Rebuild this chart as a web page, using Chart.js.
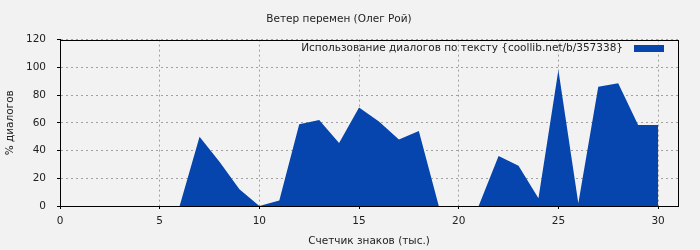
<!DOCTYPE html>
<html>
<head>
<meta charset="utf-8">
<script src="https://cdn.jsdelivr.net/npm/chart.js@4/dist/chart.umd.min.js"></script>
<style>
  html, body { margin: 0; padding: 0; background: #f2f2f2; }
  #wrap { width: 700px; height: 250px; }
</style>
</head>
<body>
<div id="wrap"><canvas id="grafico"></canvas></div>
<script>
// значения
const counters = [0, 1, 2, 3, 4, 5, 6, 7, 8, 9, 10, 11, 12, 13, 14, 15, 16, 17, 18, 19, 20, 21, 22, 23, 24, 25, 26, 27, 28, 29, 30];
const dialogs = [0, 0, 0, 0, 0, 0, 0, 50, 32, 12, 0, 4, 59, 62, 45.5, 71, 61, 48, 54, 0, 0, 0, 36, 29, 5.5, 98, 2, 86, 88.5, 58.5, 58.5];
const yTicks = [0, 20, 40, 60, 80, 100, 120];
const xTicks = [0, 5, 10, 15, 20, 25, 30];

const fontFam = "'DejaVu Sans', sans-serif";
const fontSize = 10.5;
Chart.defaults.font.family = fontFam;
Chart.defaults.font.size = fontSize;
Chart.defaults.color = "#222";

// рамка вокруг области графика и легенда внутри неё (справа сверху)
const ramka = {
  id: "ramka",
  afterDatasetsDraw(chart) {
    const a = chart.chartArea;
    const ctx = chart.ctx;
    ctx.save();
    ctx.strokeStyle = "#000";
    ctx.lineWidth = 1;
    ctx.strokeRect(Math.round(a.left) + 0.5, Math.round(a.top) + 0.5, Math.round(a.right - a.left), Math.round(a.bottom - a.top));

    const ds = chart.data.datasets[0];
    const boxW = 30, boxH = 7;
    const boxRight = a.right - 14;
    const cy = a.top + 8.5;
    ctx.fillStyle = ds.backgroundColor;
    ctx.fillRect(boxRight - boxW, Math.round(cy - boxH / 2), boxW, boxH);
    ctx.fillStyle = "#222";
    ctx.font = fontSize + "px " + fontFam;
    ctx.textAlign = "right";
    ctx.textBaseline = "middle";
    ctx.fillText(ds.label, boxRight - boxW - 11, cy);
    ctx.restore();
  }
};

const puntos = counters.map((c, i) => ({ x: c, y: dialogs[i] }));

const grid = {
  color: "#a0a0a0",
  tickColor: "#000",
  tickBorderDash: [],
  tickLength: 3,
  lineWidth: 1
};

new Chart(document.getElementById("grafico"), {
  type: "line",
  data: {
    datasets: [
      {
        label: "Использование диалогов по тексту {coollib.net/b/357338}",
        data: puntos,
        fill: "origin",
        backgroundColor: "#0645ad",
        borderColor: "#0645ad",
        borderWidth: 0,
        pointRadius: 0,
        tension: 0,
      },
    ],
  },
  plugins: [ramka],
  options: {
    responsive: true,
    maintainAspectRatio: false,
    animation: false,
    layout: { padding: { left: 0, right: 22, top: 0, bottom: 0 } },
    plugins: {
      title: {
        display: true,
        text: "Ветер перемен (Олег Рой)",
        font: { size: fontSize, weight: "normal" },
        color: "#222",
        padding: { top: 13, bottom: 14 },
      },
      legend: { display: false },
      tooltip: { enabled: false },
    },
    scales: {
      x: {
        type: "linear",
        min: 0,
        max: 31,
        afterBuildTicks(axis) { axis.ticks = xTicks.map(v => ({ value: v })); },
        afterFit(axis) { axis.height = 44; },
        ticks: { padding: 6, maxRotation: 0 },
        grid: grid,
        border: { color: "#000", dash: [2, 3] },
        title: { display: true, text: "Счетчик знаков (тыс.)", padding: { top: 2, bottom: 2 } },
      },
      y: {
        min: 0,
        max: 120,
        afterBuildTicks(axis) { axis.ticks = yTicks.map(v => ({ value: v })); },
        afterFit(axis) { axis.width = 60; },
        ticks: { padding: 11 },
        grid: grid,
        border: { color: "#000", dash: [2, 3] },
        title: { display: true, text: "% диалогов", padding: { top: 4, bottom: 2 } },
      },
    },
  },
});
</script>
</body>
</html>
